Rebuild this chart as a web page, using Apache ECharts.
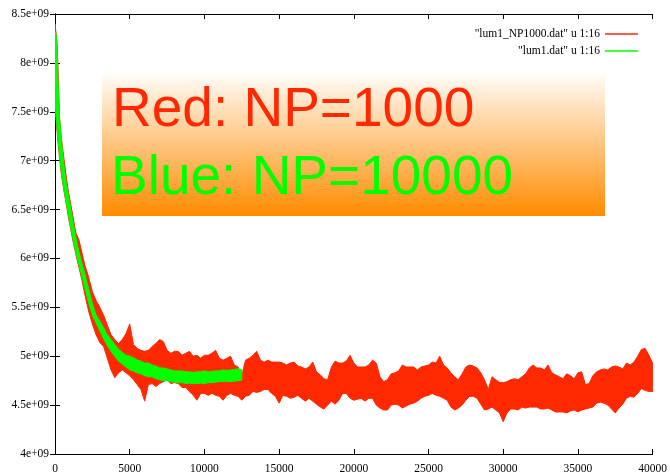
<!DOCTYPE html>
<html><head><meta charset="utf-8">
<script src="https://cdn.jsdelivr.net/npm/echarts@6/dist/echarts.min.js"></script>
<style>html,body{margin:0;padding:0;background:#fff}#c{width:670px;height:476px}</style>
</head><body><div id="c"></div>
<script>
// x values (step) ; y values in units of 1e9
const redX = [0,50,100,150,200,300,400,500,600,750,900,1050,1200,1400,1600,1800,2000,2250,2500,2750,
3000,3250,3500,3750,4000,4250,4500,4750,5000,5250,5500,5750,6000,6250,6500,6750,7000,7250,7500,7750,
8000,8250,8500,8750,9000,9250,9500,9750,10000,10250,10500,10750,11000,11250,11500,11750,12000,12250,12500,12750,
13000,13250,13500,13750,14000,14250,14500,14750,15000,15250,15500,15750,16000,16250,16500,16750,17000,17250,17500,17750,
18000,18250,18500,18750,19000,19250,19500,19750,20000,20250,20500,20750,21000,21250,21500,21750,22000,22250,22500,22750,
23000,23250,23500,23750,24000,24250,24500,24750,25000,25250,25500,25750,26000,26250,26500,26750,27000,27250,27500,27750,
28000,28250,28500,28750,29000,29250,29500,29750,30000,30250,30500,30750,31000,31250,31500,31750,32000,32250,32500,32750,
33000,33250,33500,33750,34000,34250,34500,34750,35000,35250,35500,35750,36000,36250,36500,36750,37000,37250,37500,37750,
38000,38250,38500,38750,39000,39250,39500,39750,40000];
const redHigh = [8.40,8.33,8.27,8.16,7.95,7.45,7.27,7.14,7.02,6.84,6.68,6.56,6.43,6.26,6.19,6.06,5.93,5.81,5.66,5.57,
5.50,5.42,5.32,5.22, 5.17,5.13,5.17,5.23, 5.33,5.12,5.08,5.06, 5.05,5.06,5.10,5.13, 5.17,5.15,5.06,5.03,
5.05,5.05,5.01,5.03, 5.05,5.00,5.01,4.98, 5.01,5.01,5.03,5.06, 4.98,4.96,4.98,5.00, 4.91,4.89,4.80,4.96,
4.98,5.01,5.05,4.96, 4.94,4.96,4.94,4.94, 4.94,4.93,4.91,4.93, 4.94,4.90,4.89,4.87, 4.89,4.94,4.84,4.81,
4.77,4.76,4.89,4.95, 4.93,4.93,4.95,5.01, 4.93,4.89,4.89,4.89, 4.91,4.96,4.93,4.79, 4.74,4.76,4.82,4.83,
4.85,4.91,4.89,4.89, 4.89,4.86,4.89,4.90, 4.91,4.94,4.93,5.00, 4.91,4.88,4.83,4.79, 4.76,4.82,4.89,4.91,
4.90,4.88,4.83,4.76, 4.66,4.79,4.76,4.73, 4.73,4.74,4.76,4.77, 4.76,4.79,4.82,4.88, 4.91,4.88,4.88,4.86,
4.91,4.83,4.81,4.79, 4.77,4.82,4.80,4.77, 4.83,4.84,4.71,4.72, 4.80,4.84,4.86,4.87, 4.86,4.89,4.90,4.89,
4.87,4.93,4.91,4.94, 5.00,5.07,5.08,5.01, 4.93];
const redLow = [7.85,7.46,7.37,7.28,7.19,7.03,6.89,6.79,6.69,6.56,6.42,6.30,6.18,6.04,5.91,5.78,5.63,5.46,5.33,5.22,
5.14,5.10,4.98,4.86, 4.78,4.83,4.86,4.83, 4.80,4.76,4.71,4.66, 4.54,4.71,4.72,4.69, 4.72,4.74,4.76,4.72,
4.73,4.72,4.68,4.68, 4.64,4.60,4.55,4.62, 4.62,4.60,4.62,4.60, 4.59,4.55,4.60,4.62, 4.60,4.59,4.55,4.59,
4.60,4.64,4.63,4.64, 4.66,4.66,4.62,4.59, 4.52,4.60,4.59,4.57, 4.58,4.60,4.57,4.54, 4.57,4.54,4.51,4.48,
4.46,4.50,4.54,4.51, 4.55,4.62,4.62,4.57, 4.55,4.56,4.57,4.54, 4.57,4.57,4.50,4.47, 4.45,4.45,4.50,4.51,
4.50,4.47,4.49,4.51, 4.52,4.54,4.57,4.59, 4.60,4.62,4.60,4.59, 4.57,4.55,4.48,4.45, 4.47,4.50,4.55,4.59,
4.59,4.57,4.51,4.45, 4.46,4.48,4.45,4.42, 4.33,4.42,4.46,4.46, 4.45,4.48,4.47,4.48, 4.48,4.48,4.46,4.46,
4.47,4.45,4.43,4.43, 4.43,4.42,4.44,4.45, 4.43,4.45,4.46,4.47, 4.48,4.52,4.53,4.52, 4.50,4.46,4.42,4.47,
4.51,4.57,4.59,4.58, 4.62,4.67,4.65,4.64, 4.64];

const greenX = [0,50,100,150,200,300,400,500,600,750,900,1050,1200,1400,1600,1800,2000,2250,2500,2750,
3000,3250,3500,3750,4000,4250,4500,4750,5000,5250,5500,5750,6000,6250,6500,6750,7000,7250,7500,7750,
8000,8250,8500,8750,9000,9250,9500,9750,10000,10250,10500,10750,11000,11250,11500,11750,12000,12250,12500];
const greenHigh = [8.32,8.30,8.28,8.10,7.83,7.44,7.27,7.10,6.95,6.78,6.64,6.51,6.38,6.21,6.07,5.95,5.84,5.69,5.54,5.42,
5.36,5.29,5.22,5.17, 5.12,5.07,5.04,5.01, 5.00,4.985,4.96,4.95, 4.93,4.93,4.91,4.90, 4.88,4.88,4.87,4.86,
4.85,4.85,4.85,4.84, 4.84,4.835,4.84,4.84, 4.85,4.84,4.845,4.85, 4.85,4.86,4.855,4.86, 4.865,4.87,4.865];
const greenLow = [7.73,7.50,7.40,7.32,7.23,7.07,6.92,6.81,6.71,6.57,6.45,6.32,6.20,6.06,5.94,5.82,5.70,5.55,5.42,5.34,
5.26,5.18,5.11,5.05, 5.00,4.95,4.92,4.89, 4.86,4.85,4.83,4.82, 4.80,4.79,4.79,4.77, 4.76,4.75,4.75,4.74,
4.735,4.73,4.73,4.72, 4.725,4.72,4.72,4.725, 4.72,4.73,4.73,4.735, 4.74,4.74,4.745,4.74, 4.745,4.75,4.755];

const seriesNames = ['"lum1_NP1000.dat" u 1:16', '"lum1.dat" u 1:16'];
const noteLines = ['Red: NP=1000', 'Blue: NP=10000'];

const RED = '#ff2800', GREEN = '#00ff00';
const SERIF = 'Liberation Serif';

function band(name, xs, lo, hi, color) {
  return {
    type: 'custom', name: name, clip: true,
    data: [[xs[0], lo[0]]],
    encode: {x: 0, y: 1},
    itemStyle: {color: color},
    renderItem: function (params, api) {
      const pts = [];
      for (let i = 0; i < xs.length; i++) pts.push(api.coord([xs[i], hi[i]]));
      for (let i = xs.length - 1; i >= 0; i--) pts.push(api.coord([xs[i], lo[i]]));
      return {type: 'polygon', shape: {points: pts},
        style: {fill: color, stroke: color, lineWidth: 1}};
    }
  };
}

const axisCommon = {
  axisLine: {show: true, lineStyle: {color: '#000', width: 1}},
  axisTick: {show: true, inside: true, length: 5, lineStyle: {color: '#000'}},
  splitLine: {show: false}
};
const labelFont = {color: '#000', fontFamily: SERIF, fontSize: 11.5};

const chart = echarts.init(document.getElementById('c'), null, {renderer: 'canvas'});
chart.setOption({
  animation: false,
  backgroundColor: '#fff',
  grid: {left: 55, right: 13, top: 14, bottom: 22},
  xAxis: [
    Object.assign({type: 'value', position: 'bottom', min: 0, max: 40000, interval: 5000,
      axisLabel: Object.assign({margin: 9, formatter: v => String(v)}, labelFont)}, axisCommon),
    Object.assign({type: 'value', position: 'top', min: 0, max: 40000, interval: 5000,
      axisLabel: {show: false}}, axisCommon)
  ],
  yAxis: [
    Object.assign({type: 'value', position: 'left', min: 4, max: 8.5, interval: 0.5,
      axisLabel: Object.assign({margin: 6, formatter: v => v + 'e+09'}, labelFont)}, axisCommon),
    Object.assign({type: 'value', position: 'right', min: 4, max: 8.5, interval: 0.5,
      axisLabel: {show: false}}, axisCommon)
  ],
  legend: {
    orient: 'vertical', right: 27, top: 22, align: 'right',
    itemWidth: 33, itemHeight: 1.5, itemGap: 3, selectedMode: false,
    textStyle: {fontFamily: SERIF, fontSize: 11.5, color: '#000', lineHeight: 14},
    data: [
      {name: seriesNames[0], icon: 'rect', itemStyle: {color: RED}},
      {name: seriesNames[1], icon: 'rect', itemStyle: {color: GREEN}}
    ]
  },
  graphic: [
    {type: 'rect', z: 10, shape: {x: 102, y: 70, width: 503, height: 146},
      style: {fill: new echarts.graphic.LinearGradient(0, 0, 0, 1, [
        {offset: 0, color: '#ffffff'}, {offset: 1, color: '#ff8c00'}])}},
    {type: 'text', z: 11, x: 112, y: 111,
      style: {text: noteLines[0], fill: RED, font: '55px "Liberation Sans"', verticalAlign: 'middle'}},
    {type: 'text', z: 11, x: 111, y: 179,
      style: {text: noteLines[1], fill: GREEN, font: '55px "Liberation Sans"', verticalAlign: 'middle'}}
  ],
  series: [
    band(seriesNames[0], redX, redLow, redHigh, RED),
    band(seriesNames[1], greenX, greenLow, greenHigh, GREEN)
  ]
});
</script></body></html>
